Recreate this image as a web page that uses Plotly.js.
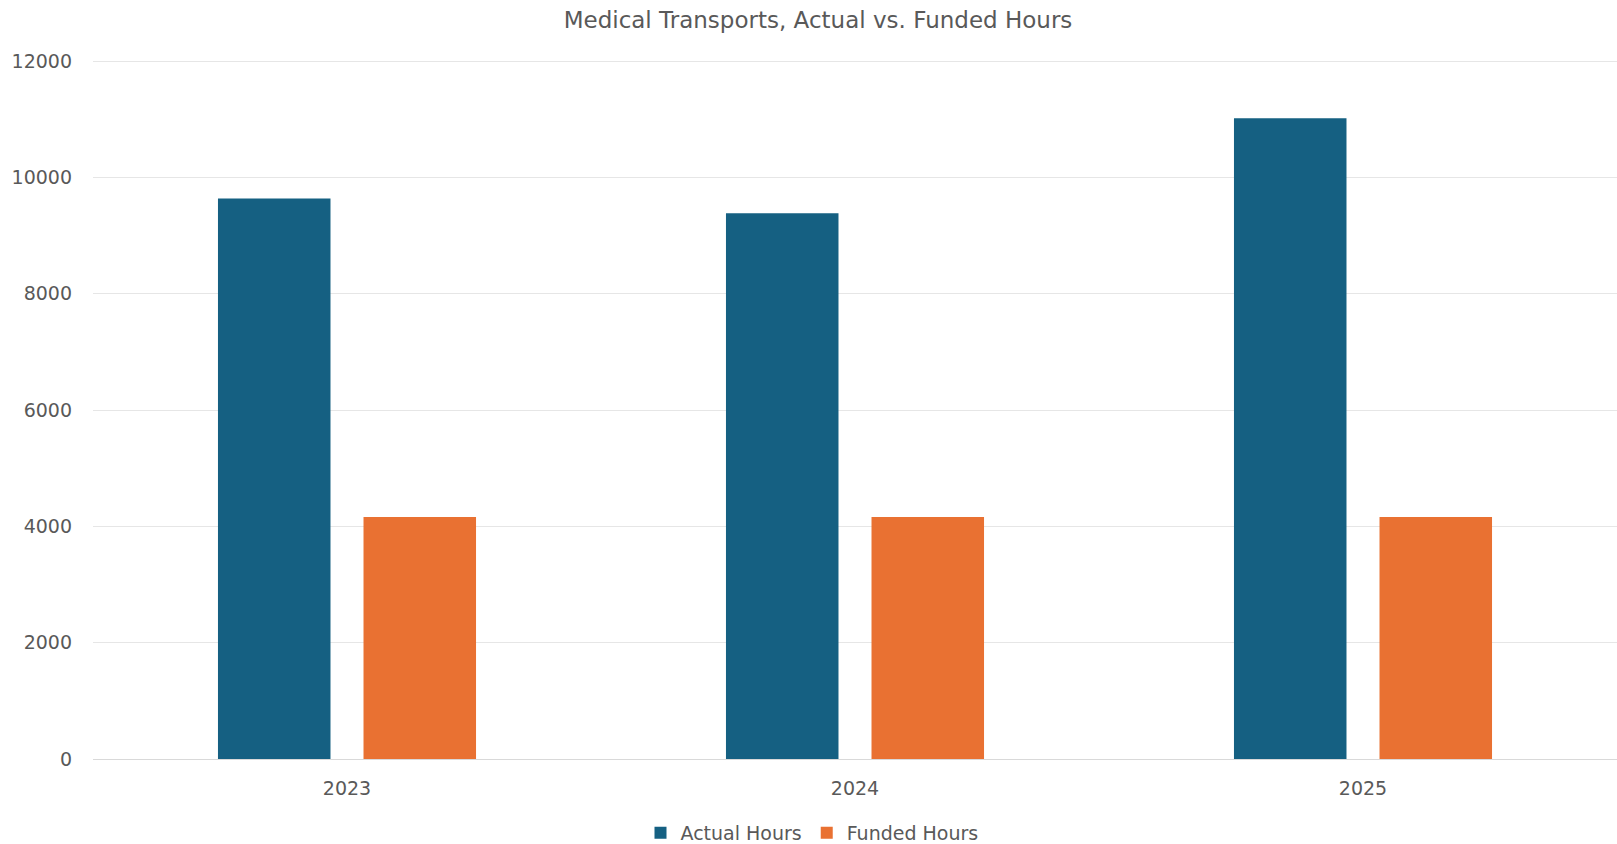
<!DOCTYPE html>
<html>
<head>
<meta charset="utf-8">
<script src="https://cdn.plot.ly/plotly-3.0.1.min.js"></script>
<style>
  html, body { margin: 0; padding: 0; background: #ffffff; }
  #chart { width: 1617px; height: 844px; }
</style>
</head>
<body>
<div id="chart"></div>
<script>
// ---- data ----
const years = ["2023", "2024", "2025"];
const actualHours = [9640, 9385, 11020];
const fundedHours = [4160, 4160, 4160];
const seriesNames = ["Actual Hours", "Funded Hours"];
const chartTitle = "Medical Transports, Actual vs. Funded Hours";
const yTicks = [0, 2000, 4000, 6000, 8000, 10000, 12000];

const FONT = "DejaVu Sans, Open Sans, sans-serif";
const TEXT = "#595959";

const traces = [
  {
    type: "bar",
    name: seriesNames[0],
    x: years,
    y: actualHours,
    width: 0.2215,
    offset: -0.254,
    marker: { color: "#156082", line: { width: 0 } },
    hoverinfo: "x+y+name"
  },
  {
    type: "bar",
    name: seriesNames[1],
    x: years,
    y: fundedHours,
    width: 0.2215,
    offset: 0.0325,
    marker: { color: "#E97132", line: { width: 0 } },
    hoverinfo: "x+y+name"
  }
];

const layout = {
  width: 1617,
  height: 844,
  paper_bgcolor: "#ffffff",
  plot_bgcolor: "#ffffff",
  margin: { l: 93, r: 0, t: 60, b: 85, pad: 0 },
  barmode: "overlay",
  font: { family: FONT, size: 19, color: TEXT },
  title: {
    text: chartTitle,
    font: { family: FONT, size: 23, color: TEXT },
    xref: "container",
    yref: "container",
    x: 818 / 1617,
    xanchor: "center",
    y: 1 - 20 / 844,
    yanchor: "middle"
  },
  xaxis: {
    type: "category",
    range: [-0.5, 2.5],
    showgrid: false,
    showline: false,
    zeroline: false,
    ticks: "",
    ticklabelstandoff: 16,
    tickfont: { family: FONT, size: 19, color: TEXT },
    fixedrange: true
  },
  yaxis: {
    range: [0, 12020],
    tickvals: yTicks,
    ticktext: yTicks.map(String),
    showgrid: true,
    gridcolor: "#e6e6e6",
    gridwidth: 1,
    zeroline: true,
    zerolinecolor: "#d9d9d9",
    zerolinewidth: 1,
    showline: false,
    ticks: "",
    ticklabelstandoff: 20,
    tickfont: { family: FONT, size: 19, color: TEXT },
    fixedrange: true
  },
  showlegend: true,
  legend: {
    orientation: "h",
    xref: "container",
    yref: "container",
    x: 812 / 1617,
    xanchor: "center",
    y: 1 - 833 / 844,
    yanchor: "middle",
    font: { family: FONT, size: 19, color: TEXT },
    bgcolor: "rgba(0,0,0,0)",
    itemclick: false,
    itemdoubleclick: false
  }
};

Plotly.newPlot("chart", traces, layout, { displayModeBar: false, staticPlot: false, responsive: false });
</script>
</body>
</html>
